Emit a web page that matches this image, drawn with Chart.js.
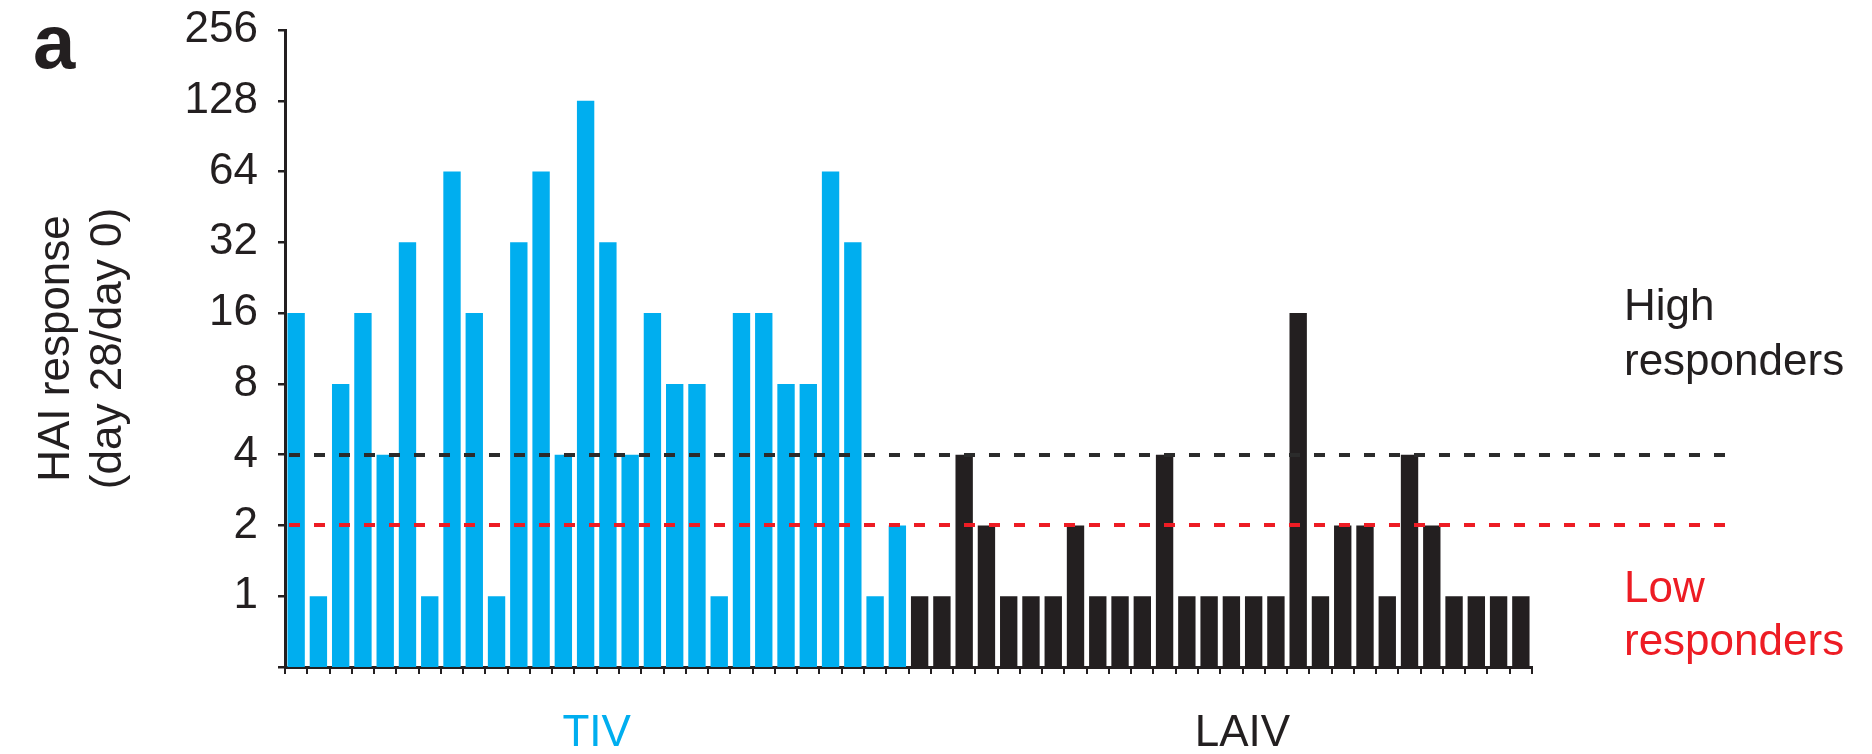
<!DOCTYPE html>
<html>
<head>
<meta charset="utf-8">
<script src="https://cdn.jsdelivr.net/npm/chart.js@4.4.1/dist/chart.umd.min.js"></script>
<style>
  html, body { margin: 0; padding: 0; background: #ffffff; }
  #wrap { width: 1872px; height: 754px; }
</style>
</head>
<body>
<div id="wrap"><canvas id="chart" width="1872" height="754"></canvas></div>
<script>
// Vaccine groups shown along the x axis
const groups = ['TIV', 'LAIV'];

// HAI fold change (day 28 / day 0), one value per subject
const tivValues  = [16, 1, 8, 16, 4, 32, 1, 64, 16, 1, 32, 64, 4, 128, 32, 4, 16, 8, 8, 1, 16, 16, 8, 8, 64, 32, 1, 2];
const laivValues = [1, 1, 4, 2, 1, 1, 1, 2, 1, 1, 1, 4, 1, 1, 1, 1, 1, 16, 1, 2, 2, 1, 4, 2, 1, 1, 1, 1];

// Log2 axis ticks (0.5 is the axis floor and carries no label)
const yTickValues = [0.5, 1, 2, 4, 8, 16, 32, 64, 128, 256];

// Responder cut-offs
const highCutoff = 4;
const lowCutoff = 2;

const FONT = "'Liberation Sans', Arial, Helvetica, sans-serif";
const BLUE = '#00aeef';
const INK = '#231f20';
const RED = '#ed1c24';

const subjects = [
  ...tivValues.map((_, i) => 'TIV ' + (i + 1)),
  ...laivValues.map((_, i) => 'LAIV ' + (i + 1))
];
const tivData = [...tivValues, ...laivValues.map(() => null)];
const laivData = [...tivValues.map(() => null), ...laivValues];

// Group caption row: one caption per group, placed near the middle of its subjects
const groupRow = subjects.map(() => '');
groupRow[Math.floor(tivValues.length / 2) - 1] = groups[0];
groupRow[tivValues.length + Math.floor(laivValues.length / 2)] = groups[1];

// Dashed cut-off lines, drawn over the bars and continued past the plot
const cutoffLines = {
  id: 'cutoffLines',
  afterDatasetsDraw(chart) {
    const { ctx, chartArea, scales: { y } } = chart;
    const x0 = chartArea.left;
    const x1 = chartArea.right + 206;
    ctx.save();
    ctx.lineWidth = 4;
    ctx.setLineDash([11, 14]);
    [[highCutoff, '#2b2b2b'], [lowCutoff, RED]].forEach(([v, col]) => {
      const py = Math.round(y.getPixelForValue(v));
      ctx.strokeStyle = col;
      ctx.beginPath();
      ctx.moveTo(x0 + 4, py);
      ctx.lineTo(x1, py);
      ctx.stroke();
    });
    ctx.restore();
  }
};

// Panel letter and responder annotations
const panelText = {
  id: 'panelText',
  afterDraw(chart) {
    const { ctx, chartArea } = chart;
    const tx = chartArea.right + 92;
    ctx.save();
    ctx.textAlign = 'left';
    ctx.textBaseline = 'alphabetic';
    ctx.fillStyle = INK;
    ctx.font = 'bold 76px ' + FONT;
    ctx.fillText('a', 33, 68);
    ctx.font = '44px ' + FONT;
    ctx.fillText('High', tx, 320);
    ctx.fillText('responders', tx, 375);
    ctx.fillStyle = RED;
    ctx.fillText('Low', tx, 602);
    ctx.fillText('responders', tx, 655);
    ctx.restore();
  }
};

new Chart(document.getElementById('chart'), {
  type: 'bar',
  data: {
    labels: subjects,
    datasets: [
      { label: 'TIV', data: tivData, backgroundColor: BLUE, borderWidth: 0 },
      { label: 'LAIV', data: laivData, backgroundColor: INK, borderWidth: 0 }
    ]
  },
  options: {
    responsive: false,
    animation: false,
    grouped: false,
    barPercentage: 0.78,
    categoryPercentage: 1.0,
    layout: { padding: { left: 8, right: 340, top: 30, bottom: 0 } },
    plugins: {
      legend: { display: false },
      tooltip: { enabled: false }
    },
    scales: {
      x: {
        type: 'category',
        position: 'bottom',
        weight: 0,
        offset: true,
        grid: {
          display: true,
          offset: true,
          drawOnChartArea: false,
          drawTicks: true,
          tickLength: 7,
          lineWidth: 2,
          color: INK
        },
        border: { display: true, width: 3, color: INK },
        ticks: { display: false },
        afterFit(scale) { scale.height = 7; }
      },
      group: {
        type: 'category',
        labels: groupRow,
        position: 'bottom',
        weight: 1,
        offset: true,
        grid: { display: false, drawTicks: false },
        border: { display: false },
        ticks: {
          autoSkip: false,
          maxRotation: 0,
          padding: 33,
          labelOffset: 11,
          font: { family: FONT, size: 44 },
          color: (ctx) => (ctx.index < tivValues.length ? BLUE : INK)
        },
        afterFit(scale) { scale.height = 80; }
      },
      y: {
        type: 'logarithmic',
        min: 0.5,
        max: 256,
        afterBuildTicks(scale) {
          scale.ticks = yTickValues.map((v) => ({ value: v }));
        },
        afterFit(scale) {
          scale.width = 277;
          scale.paddingTop = 0;
          scale.paddingBottom = 0;
        },
        grid: {
          display: true,
          drawOnChartArea: false,
          drawTicks: true,
          tickLength: 7,
          lineWidth: 2.5,
          color: INK
        },
        border: { display: true, width: 3, color: INK },
        ticks: {
          padding: 20,
          color: INK,
          font: { family: FONT, size: 44 },
          callback: (v) => (v >= 1 ? String(v) : '')
        },
        title: {
          display: true,
          text: ['HAI response', '(day 28/day 0)'],
          color: INK,
          font: { family: FONT, size: 44, lineHeight: 1.2 },
          padding: { top: 22, bottom: 0 }
        }
      }
    }
  },
  plugins: [cutoffLines, panelText]
});
</script>
</body>
</html>
